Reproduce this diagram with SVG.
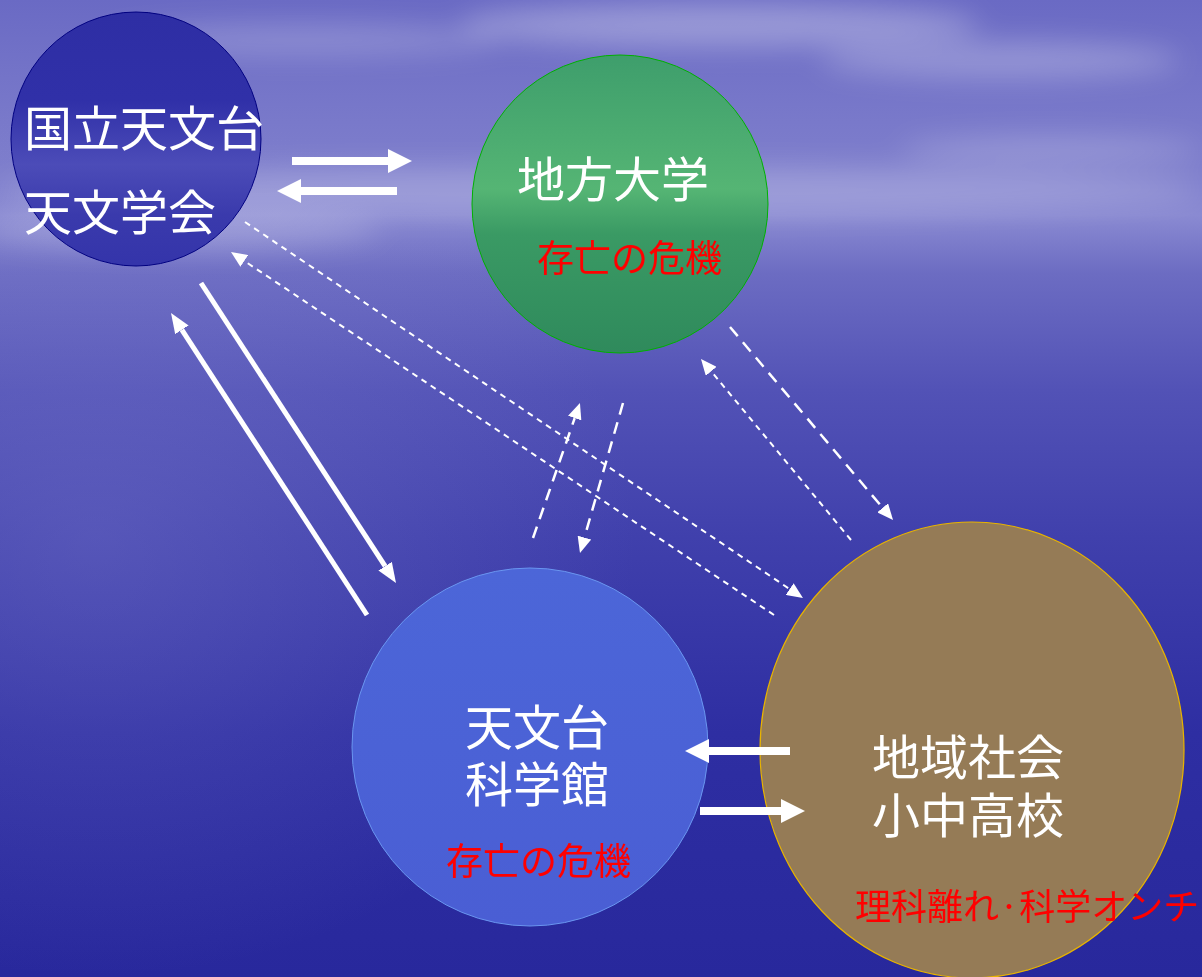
<svg xmlns="http://www.w3.org/2000/svg" width="1202" height="977" viewBox="0 0 1202 977">
<defs>
<linearGradient id="bg" x1="0" y1="0" x2="0" y2="1">
<stop offset="0" stop-color="#6a6ac4"/>
<stop offset="0.08" stop-color="#7474c8"/>
<stop offset="0.17" stop-color="#7e7ecc"/>
<stop offset="0.22" stop-color="#8a8ad2"/>
<stop offset="0.28" stop-color="#6c6cc2"/>
<stop offset="0.4" stop-color="#5252b6"/>
<stop offset="0.55" stop-color="#4040ac"/>
<stop offset="0.75" stop-color="#2e2ea2"/>
<stop offset="1" stop-color="#28289c"/>
</linearGradient>
<radialGradient id="leftglow" cx="0.08" cy="0.55" r="0.45">
<stop offset="0" stop-color="#8080d0" stop-opacity="0.35"/>
<stop offset="1" stop-color="#8080d0" stop-opacity="0"/>
</radialGradient>
<filter id="blur" x="-50%" y="-50%" width="200%" height="200%"><feGaussianBlur stdDeviation="14"/></filter>
<linearGradient id="g1" x1="0" y1="0" x2="0" y2="1">
<stop offset="0" stop-color="#2e2ea4"/>
<stop offset="0.35" stop-color="#3030a8"/>
<stop offset="0.6" stop-color="#4c4cb8"/>
<stop offset="0.8" stop-color="#3a3aac"/>
<stop offset="1" stop-color="#3434aa"/>
</linearGradient>
<linearGradient id="g2" x1="0" y1="0" x2="0" y2="1">
<stop offset="0" stop-color="#3e9e6c"/>
<stop offset="0.45" stop-color="#55b574"/>
<stop offset="0.6" stop-color="#3a9a64"/>
<stop offset="1" stop-color="#2f8a5c"/>
</linearGradient>
<linearGradient id="g3" x1="0" y1="0" x2="0" y2="1">
<stop offset="0" stop-color="#4c66d8"/>
<stop offset="1" stop-color="#4a5ed4"/>
</linearGradient>
<marker id="hb" markerUnits="userSpaceOnUse" viewBox="0 -12 24 24" markerWidth="24" markerHeight="24" refX="0" refY="0" orient="auto">
<path d="M0,-12 L24,0 L0,12 z" fill="#fff"/>
</marker>
<marker id="hm" markerUnits="userSpaceOnUse" viewBox="0 -8 20 16" markerWidth="20" markerHeight="16" refX="0" refY="0" orient="auto">
<path d="M0,-8 L20,0 L0,8 z" fill="#fff"/>
</marker>
<marker id="hs" markerUnits="userSpaceOnUse" viewBox="0 -7 16 14" markerWidth="16" markerHeight="14" refX="0" refY="0" orient="auto">
<path d="M0,-7 L16,0 L0,7 z" fill="#fff"/>
</marker>
</defs>
<style>
.w{fill:#fff;font-family:"Liberation Sans","Noto Sans CJK JP",sans-serif;}
.r{fill:#ff0000;font-family:"Noto Sans CJK JP","Noto Sans",sans-serif;}
.thick{stroke:#fff;stroke-width:8;fill:none;marker-end:url(#hb);}
.long{stroke:#fff;stroke-width:5;fill:none;marker-end:url(#hm);}
.dot{stroke:#fff;stroke-width:2;stroke-dasharray:6 5;fill:none;marker-end:url(#hs);}
.dash{stroke:#fff;stroke-width:2.5;stroke-dasharray:12 8;fill:none;marker-end:url(#hs);}
</style>
<rect x="0" y="0" width="1202" height="977" fill="url(#bg)"/>
<rect x="0" y="0" width="1202" height="977" fill="url(#leftglow)"/>
<g filter="url(#blur)" fill="#ffffff">
<ellipse cx="720" cy="25" rx="260" ry="22" opacity="0.3"/>
<ellipse cx="1000" cy="60" rx="180" ry="18" opacity="0.25"/>
<ellipse cx="300" cy="40" rx="200" ry="16" opacity="0.2"/>
<ellipse cx="600" cy="190" rx="600" ry="24" opacity="0.2"/>
<ellipse cx="1050" cy="150" rx="150" ry="14" opacity="0.2"/>
<ellipse cx="180" cy="230" rx="200" ry="20" opacity="0.2"/>
</g>

<g id="node-kokuritsu">
<ellipse cx="136" cy="139" rx="125" ry="127" fill="url(#g1)" stroke="#000080" stroke-width="1"/>
<text class="w" x="24" y="146" font-size="48">国立天文台</text>
<text class="w" x="24" y="230" font-size="48">天文学会</text>
</g>

<g id="node-chiho">
<ellipse cx="620" cy="204" rx="148" ry="149" fill="url(#g2)" stroke="#00b000" stroke-width="1"/>
<text class="w" x="517" y="197" font-size="48">地方大学</text>
<text class="r" x="537" y="272" font-size="37">存亡の危機</text>
</g>

<g id="node-kagakukan">
<ellipse cx="530" cy="747" rx="178" ry="179" fill="url(#g3)" stroke="#6a96f0" stroke-width="1"/>
<text class="w" x="537" y="745" font-size="48" text-anchor="middle">天文台</text>
<text class="w" x="537" y="802" font-size="48" text-anchor="middle">科学館</text>
<text class="r" x="446" y="875" font-size="37">存亡の危機</text>
</g>

<g id="node-chiiki">
<ellipse cx="972" cy="750" rx="212" ry="228" fill="#957b56" stroke="#e8b400" stroke-width="1.2"/>
<text class="w" x="968" y="775" font-size="48" text-anchor="middle">地域社会</text>
<text class="w" x="968" y="833" font-size="48" text-anchor="middle">小中高校</text>
<text class="r" x="855" y="920" font-size="36">理科離れ·科学オンチ</text>
</g>

<g id="connectors">
<line class="thick" x1="292" y1="161" x2="388" y2="161"/>
<line class="thick" x1="397" y1="191" x2="301" y2="191"/>
<line class="thick" x1="790" y1="751" x2="709" y2="751"/>
<line class="thick" x1="700" y1="811" x2="781" y2="811"/>
<line class="long" x1="201" y1="283" x2="385.1" y2="566.2"/>
<line class="long" x1="367" y1="615" x2="181.9" y2="329.8"/>
<line class="dot" x1="245" y1="222" x2="789.7" y2="589.1"/>
<line class="dot" x1="774" y1="615" x2="244.3" y2="260.9"/>
<line class="dash" x1="533" y1="538" x2="574.7" y2="418.1"/>
<line class="dash" x1="623" y1="403" x2="584.4" y2="537.6"/>
<line class="dot" x1="851" y1="540" x2="711.2" y2="371.3"/>
<line class="dash" x1="730" y1="327" x2="882.7" y2="507.8"/>
</g>
</svg>
